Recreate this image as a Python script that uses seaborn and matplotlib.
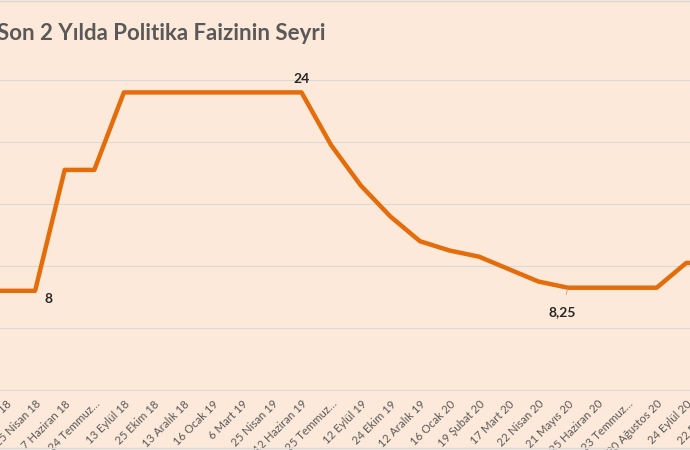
import matplotlib
matplotlib.use("Agg")
import matplotlib.pyplot as plt
import seaborn as sns
import pandas as pd

tarihler = ["18 Ocak 18", "7 Mart 18", "25 Nisan 18", "7 Haziran 18", "24 Temmuz…",
            "13 Eylül 18", "25 Ekim 18", "13 Aralık 18", "16 Ocak 19", "6 Mart 19",
            "25 Nisan 19", "12 Haziran 19", "25 Temmuz…", "12 Eylül 19", "24 Ekim 19",
            "12 Aralık 19", "16 Ocak 20", "19 Şubat 20", "17 Mart 20", "22 Nisan 20",
            "21 Mayıs 20", "25 Haziran 20", "23 Temmuz…", "20 Ağustos 20", "24 Eylül 20",
            "22 Ekim 20"]
faiz = [8, 8, 8, 17.75, 17.75, 24, 24, 24, 24, 24, 24, 24, 19.75, 16.5, 14, 12,
        11.25, 10.75, 9.75, 8.75, 8.25, 8.25, 8.25, 8.25, 10.25, 10.25]

df = pd.DataFrame({"tarih": range(len(tarihler)), "faiz": faiz})

bg = "#FDE9D9"
sns.set_style("white")
plt.rcParams["font.family"] = ["Lato", "DejaVu Sans"]

fig = plt.figure(figsize=(6.9, 4.5), dpi=100, facecolor=bg)
# plot area is wider than the picture: the original is a crop
n = len(tarihler)
step = 29.6
left_px = 5.5 - step - step / 2
ax = fig.add_axes([left_px / 690, 60 / 450, n * step / 690, 310 / 450])
ax.set_facecolor(bg)

sns.lineplot(data=df, x="tarih", y="faiz", ax=ax, color="#E46C0A", linewidth=3.2)

ax.set_xlim(-0.5, n - 0.5)
ax.set_ylim(0, 25)
ax.set_yticks([0, 5, 10, 15, 20, 25])
ax.set_yticklabels([])
ax.tick_params(axis="y", length=0)
ax.grid(axis="y", color="#D9D9D9", linewidth=0.8)
ax.set_xticks(range(n))
ax.set_xticklabels(tarihler, rotation=45, ha="right", rotation_mode="anchor",
                   fontsize=8.2, color="#595959")
ax.tick_params(axis="x", length=0, pad=6)
ax.set_xlabel("")
ax.set_ylabel("")
for s in ["top", "left", "right"]:
    ax.spines[s].set_visible(False)
ax.spines["bottom"].set_color("#D9D9D9")

# data labels
ax.annotate("8", xy=(2, 8), xytext=(2.45, 7.3), fontsize=10, fontweight="bold",
            ha="center", va="center",
            arrowprops=dict(arrowstyle="-", color="#A6A6A6", lw=0.6, shrinkA=4, shrinkB=1))
ax.text(11, 24.6, "24", fontsize=10, fontweight="bold", ha="center", va="bottom")
ax.annotate("8,25", xy=(20, 8.25), xytext=(19.8, 6.3), fontsize=10, fontweight="bold",
            ha="center", va="center",
            arrowprops=dict(arrowstyle="-", color="#A6A6A6", lw=0.6, shrinkA=6, shrinkB=1))

fig.text(-0.005, 0.925, "Son 2 Yılda Politika Faizinin Seyri", fontsize=16,
         fontweight="bold", color="#595959", ha="left", va="center")

# frame lines of the cropped chart area
fig.add_artist(plt.Line2D([0, 1], [0.997, 0.997], color="#D9D9D9", lw=1))
fig.add_artist(plt.Line2D([0, 1], [0.005, 0.005], color="#D9D9D9", lw=1))

fig.savefig("out.png", dpi=100, facecolor=bg)
